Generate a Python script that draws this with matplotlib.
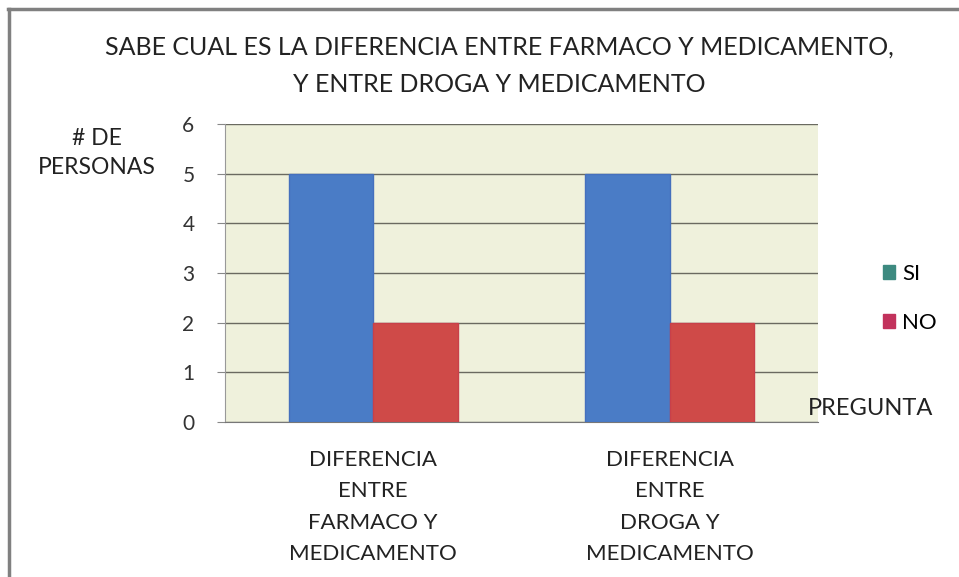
import matplotlib
matplotlib.use("Agg")
import matplotlib.pyplot as plt
from matplotlib.patches import Patch
from matplotlib.lines import Line2D
import numpy as np

plt.rcParams['font.family'] = ['Lato', 'DejaVu Sans']

# data
categories = ["DIFERENCIA\nENTRE\nFARMACO Y\nMEDICAMENTO",
              "DIFERENCIA\nENTRE\nDROGA Y\nMEDICAMENTO"]
si_values = [5, 5]
no_values = [2, 2]
series_names = ["SI", "NO"]
yticks = [0, 1, 2, 3, 4, 5, 6]

fig = plt.figure(figsize=(9.59, 5.77), dpi=100)
fig.patch.set_facecolor("white")
ax = fig.add_axes([0.2346, 0.2686, 0.6184, 0.5165])
ax.set_facecolor("#eff1dc")

x = np.arange(len(categories))
w = 0.285
ax.bar(x - w / 2, si_values, w, color="#4a7cc6", edgecolor="#4570bd", linewidth=1, zorder=3)
ax.bar(x + w / 2, no_values, w, color="#cf4a48", edgecolor="#c8404a", linewidth=1, zorder=3)

ax.set_xlim(-0.5, 1.5)
ax.set_ylim(0, 6)
ax.set_yticks(yticks)
ax.yaxis.grid(True, color="#6a6a60", linewidth=1)
ax.set_axisbelow(True)
ax.set_xticks(x)
ax.set_xticklabels(categories, fontsize=16, linespacing=1.72, color="#222222")
ax.tick_params(axis="x", length=0, pad=20)
ax.tick_params(axis="y", length=6, color="#888888", labelsize=15, pad=16, labelcolor="#333333")
for s in ["top", "right"]:
    ax.spines[s].set_visible(False)
ax.spines["left"].set_color("#999999")
ax.spines["bottom"].set_color("#777777")

fig.text(0.521, 0.886, "SABE CUAL ES LA DIFERENCIA ENTRE FARMACO Y MEDICAMENTO,\nY ENTRE DROGA Y MEDICAMENTO",
         ha="center", va="center", fontsize=18, linespacing=1.8, color="#222222")
fig.text(0.101, 0.735, "# DE\nPERSONAS", ha="center", va="center", fontsize=16.5,
         linespacing=1.5, color="#222222")
fig.text(0.908, 0.292, "PREGUNTA", ha="center", va="center", fontsize=17, color="#222222")

handles = [Patch(facecolor="#3d8a80", edgecolor="#3d8a80"),
           Patch(facecolor="#c2325c", edgecolor="#c2325c")]
fig.legend(handles, series_names, loc="center left", bbox_to_anchor=(0.9, 0.483),
           frameon=False, fontsize=16, handlelength=0.55, handleheight=0.55,
           handletextpad=0.3, labelspacing=1.3)

# outer frame lines
fig.add_artist(Line2D([0.009, 0.009], [0.0, 0.985], color="#808080", linewidth=2.5,
                      transform=fig.transFigure))
fig.add_artist(Line2D([0.008, 1.0], [0.985, 0.985], color="#808080", linewidth=2.5,
                      transform=fig.transFigure))

fig.savefig("out.png", dpi=100)
